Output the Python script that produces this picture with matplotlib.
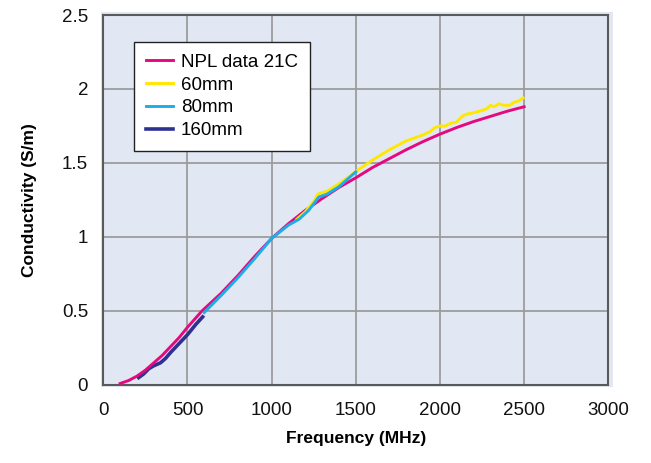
import matplotlib
matplotlib.use("Agg")
import matplotlib.pyplot as plt
from matplotlib.patches import Rectangle

plt.rcParams['font.family'] = ['Liberation Sans', 'DejaVu Sans']

# NPL data 21C
npl_f = [100, 150, 200, 250, 300, 350, 400, 450, 500, 586, 700, 800, 900, 1000,
         1100, 1200, 1300, 1400, 1500, 1600, 1700, 1800, 1900, 2000, 2100, 2200,
         2300, 2400, 2500]
npl_s = [0.01, 0.03, 0.06, 0.10, 0.15, 0.20, 0.26, 0.32, 0.39, 0.50, 0.62, 0.74,
         0.87, 0.99, 1.09, 1.18, 1.26, 1.335, 1.40, 1.47, 1.53, 1.59, 1.645, 1.695,
         1.74, 1.78, 1.815, 1.85, 1.88]

# 60mm
mm60_f = [1150, 1200, 1250, 1275, 1300, 1330, 1400, 1450, 1521, 1600, 1700, 1800,
          1900, 1938, 1970, 2000, 2030, 2067, 2097, 2137, 2160, 2200, 2236, 2276,
          2300, 2320, 2350, 2380, 2415, 2440, 2470, 2494]
mm60_s = [1.12, 1.17, 1.24, 1.29, 1.30, 1.31, 1.36, 1.40, 1.46, 1.52, 1.59, 1.65,
          1.69, 1.71, 1.74, 1.75, 1.75, 1.77, 1.775, 1.82, 1.83, 1.84, 1.85, 1.865,
          1.89, 1.88, 1.90, 1.89, 1.89, 1.91, 1.92, 1.94]

# 80mm
mm80_f = [600, 700, 800, 900, 1000, 1100, 1163, 1220, 1280, 1330, 1400, 1450, 1500]
mm80_s = [0.49, 0.605, 0.725, 0.855, 0.99, 1.08, 1.12, 1.18, 1.27, 1.29, 1.34, 1.39, 1.44]

# 160mm
mm160_f = [210, 240, 270, 300, 340, 370, 400, 450, 500, 550, 590]
mm160_s = [0.05, 0.075, 0.11, 0.13, 0.15, 0.18, 0.22, 0.28, 0.34, 0.41, 0.46]

x_ticks = [0, 500, 1000, 1500, 2000, 2500, 3000]
y_ticks = [0, 0.5, 1, 1.5, 2, 2.5]
y_ticklabels = ['0', '0.5', '1', '1.5', '2', '2.5']

fig = plt.figure(figsize=(6.51, 4.63), dpi=100)
ax = fig.add_axes([0.1587, 0.1685, 0.7757, 0.7991])

bg = '#E1E8F3'
fig.patches.append(Rectangle((0.1548, 0.1635), 0.7873, 0.8112, transform=fig.transFigure,
                             facecolor=bg, edgecolor='none', zorder=-10))
ax.set_facecolor(bg)

lw = 2.1
ax.plot(mm160_f, mm160_s, color='#2E3192', lw=lw + 0.5, label='160mm', zorder=3)
ax.plot(npl_f, npl_s, color='#E5097F', lw=lw, label='NPL data 21C', zorder=4)
ax.plot(mm60_f, mm60_s, color='#FFE800', lw=lw, label='60mm', zorder=5)
ax.plot(mm80_f, mm80_s, color='#1DAEEA', lw=lw, label='80mm', zorder=6)

ax.set_xlim(0, 3000)
ax.set_ylim(0, 2.5)
ax.set_xticks(x_ticks)
ax.set_yticks(y_ticks)
ax.set_yticklabels(y_ticklabels)
ax.tick_params(length=0, labelsize=13.5, colors='#111111')
ax.tick_params(axis='x', pad=12)
ax.tick_params(axis='y', pad=11)
ax.grid(True, color='#9C9C9C', lw=1.3)
ax.set_axisbelow(True)
for sp in ax.spines.values():
    sp.set_color('#5A5A5A')
    sp.set_linewidth(1.5)

ax.set_xlabel('Frequency (MHz)', fontsize=12.5, fontweight='bold', labelpad=9)
ax.set_ylabel('Conductivity (S/m)', fontsize=12.5, fontweight='bold', labelpad=18)

handles, labels = ax.get_legend_handles_labels()
order = [labels.index(n) for n in ['NPL data 21C', '60mm', '80mm', '160mm']]
leg = ax.legend([handles[i] for i in order], [labels[i] for i in order],
                loc='upper left', bbox_to_anchor=(0.061, 0.928), borderaxespad=0,
                fontsize=13.5, frameon=True, fancybox=False, handlelength=1.45,
                handletextpad=0.4, labelspacing=0.3, borderpad=0.65)
leg.get_frame().set_edgecolor('#222222')
leg.get_frame().set_linewidth(1.0)
leg.get_frame().set_facecolor('white')
leg.get_frame().set_alpha(1)

fig.savefig('out.png', dpi=100)
